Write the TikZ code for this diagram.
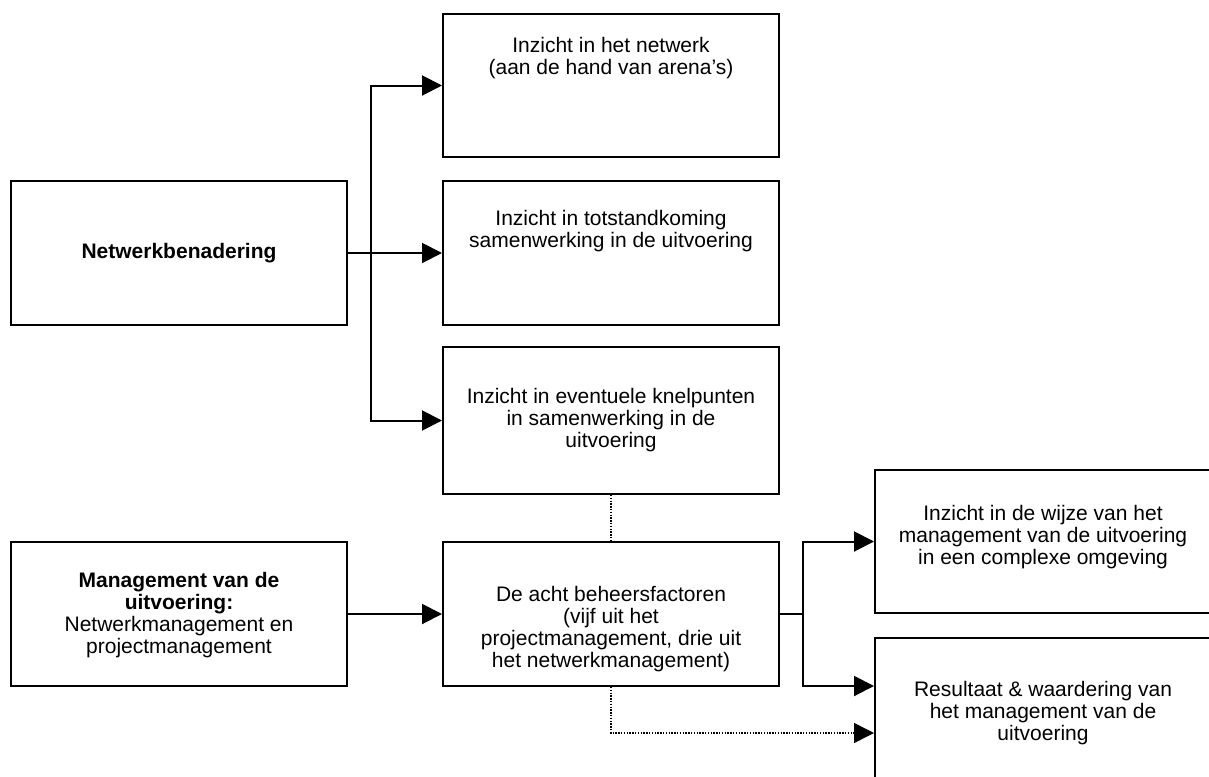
\documentclass[tikz,border=0pt]{standalone}
\usepackage{fontspec}
\setmainfont{Liberation Sans}
\usetikzlibrary{arrows.meta}
\begin{document}
\begin{tikzpicture}[x=1pt,y=-1pt,
  box/.style={draw,line width=2pt,inner sep=0pt,minimum width=336pt},
  txt/.style={align=center,font=\fontsize{21}{22}\selectfont,inner sep=0pt},
  conn/.style={line width=2pt},
  arr/.style={-{Triangle[length=20pt,width=20pt]}},
  dotline/.style={line width=1.4pt,dash pattern=on 1.4pt off 1.4pt}]
\useasboundingbox (0,0) rectangle (1209,776);
\clip (0,0) rectangle (1209,776);
% boxes
\node (nb) [box,minimum height=144pt] at (179,253) {};
\node (b1) [box,minimum height=143pt] at (611,85.5) {};
\node (b2) [box,minimum height=144pt] at (611,253) {};
\node (b3) [box,minimum height=147pt] at (611,420.5) {};
\node (mg) [box,minimum height=144pt] at (179,614) {};
\node (ac) [box,minimum height=144pt] at (611,614) {};
\node (r1) [box,minimum height=143pt] at (1043,541.5) {};
\node (r2) [box,minimum height=144pt] at (1043,710) {};
% texts
\node (tnb) [txt] at (179,253) {\textbf{Netwerkbenadering}};
\node (t1) [txt] at (611,58) {Inzicht in het netwerk\\(aan de hand van arena’s)};
\node (t2) [txt] at (611,231) {Inzicht in totstandkoming\\samenwerking in de uitvoering};
\node (t3) [txt] at (611,420) {Inzicht in eventuele knelpunten\\in samenwerking in de\\uitvoering};
\node (tmg) [txt] at (179,615) {\textbf{Management van de}\\\textbf{uitvoering:}\\Netwerkmanagement en\\projectmanagement};
\node (tac) [txt] at (611,629) {De acht beheersfactoren\\(vijf uit het\\projectmanagement, drie uit\\het netwerkmanagement)};
\node (tr1) [txt] at (1043,537) {Inzicht in de wijze van het\\management van de uitvoering\\in een complexe omgeving};
\node (tr2) [txt] at (1043,713) {Resultaat \& waardering van\\het management van de\\uitvoering};
% junctions
\coordinate (j1) at (371,85.5);
\coordinate (j2) at (371,253);
\coordinate (j3) at (371,420.5);
\coordinate (k0) at (803,614);
\coordinate (k1) at (803,541.5);
\coordinate (k2) at (803,686);
\coordinate (d1) at (611,733);
% connectors
\draw[conn] (nb.east) -- (j2);
\draw[conn,line cap=rect] (j1) -- (j3);
\draw[conn,arr] (j1) -- (b1.west);
\draw[conn,arr] (j2) -- (b2.west);
\draw[conn,arr] (j3) -- (b3.west);
\draw[conn,arr] (mg.east) -- (ac.west);
\draw[conn] (ac.east) -- (k0);
\draw[conn,line cap=rect] (k1) -- (k2);
\draw[conn,arr] (k1) -- (r1.west);
\draw[conn,arr] (k2) -- (r2.west |- k2);
\draw[dotline] (b3.south) -- (ac.north);
\draw[dotline,arr] (ac.south) -- (d1) -- (r2.west |- d1);
\end{tikzpicture}
\end{document}
